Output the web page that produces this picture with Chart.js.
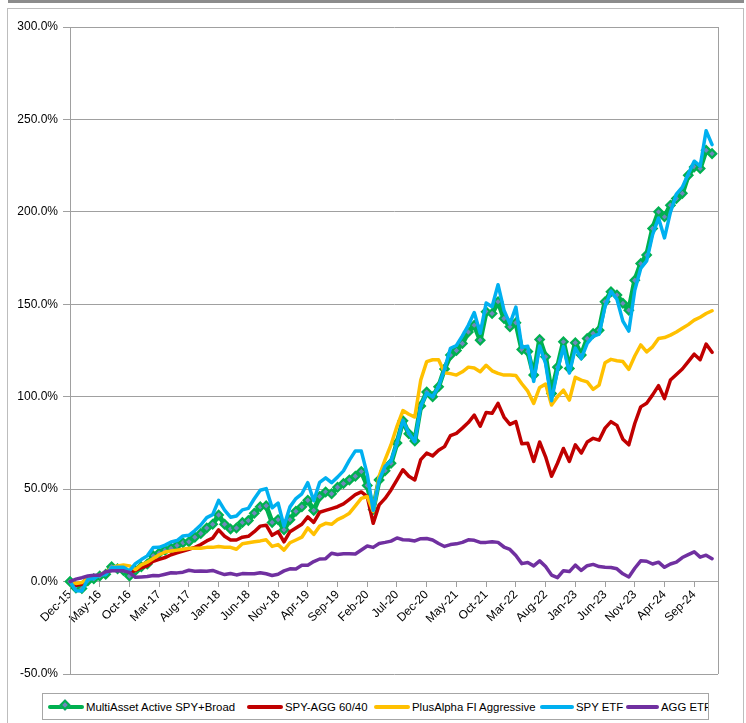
<!DOCTYPE html>
<html>
<head>
<meta charset="utf-8">
<script src="https://cdn.jsdelivr.net/npm/chart.js@4.4.1/dist/chart.umd.min.js"></script>
<style>
  body { margin: 0; background: #fff; width: 746px; height: 723px; overflow: hidden; position: relative;
         font-family: "Liberation Sans", Arial, sans-serif; }
  #topbar { position: absolute; left: 8px; top: 0; width: 736px; height: 3px; background: #8c8c8c; }
  #frame { position: absolute; left: 7px; top: 8px; width: 737px; height: 740px; border: 1px solid #bdbdbd; box-sizing: border-box; }
  #chart { position: absolute; left: 0; top: 0; }
  #legend { position: absolute; left: 42px; top: 693px; width: 667px; height: 27px; border: 1px solid #a6a6a6;
            box-sizing: border-box; overflow: hidden; background: #fff; }
  .item { position: absolute; top: 0; height: 25px; display: flex; align-items: center; font-size: 11.4px; white-space: nowrap; color: #000; }
  .sw { width: 36px; height: 4px; margin-right: 2px; position: relative; border-radius: 2px; }
  .dia { position: absolute; left: 13px; top: -3.5px; width: 8px; height: 8px; transform: rotate(45deg);
         background: #7086bd; border: 2px solid #00b050; box-sizing: border-box; }
</style>
</head>
<body>
<div id="topbar"></div>
<div id="frame"></div>
<canvas id="chart" width="746" height="690"></canvas>
<div id="legend">
  <div class="item" style="left:5px"><span class="sw" style="background:#00b050"><span class="dia"></span></span>MultiAsset Active SPY+Broad</div>
  <div class="item" style="left:204px"><span class="sw" style="background:#c00000"></span>SPY-AGG 60/40</div>
  <div class="item" style="left:331px"><span class="sw" style="background:#ffc000"></span>PlusAlpha FI Aggressive</div>
  <div class="item" style="left:497px"><span class="sw" style="background:#00b0f0; width:34px"></span>SPY ETF</div>
  <div class="item" style="left:583px"><span class="sw" style="background:#7030a0; width:33px"></span>AGG ETF</div>
</div>
<script>
// monthly categories Dec-15 .. Jan-25, a label shown every 5 months
const monthNames = ['Jan','Feb','Mar','Apr','May','Jun','Jul','Aug','Sep','Oct','Nov','Dec'];
const tickLabels = ['Dec-15','May-16','Oct-16','Mar-17','Aug-17','Jan-18','Jun-18','Nov-18','Apr-19','Sep-19','Feb-20',
  'Jul-20','Dec-20','May-21','Oct-21','Mar-22','Aug-22','Jan-23','Jun-23','Nov-23','Apr-24','Sep-24'];
const categories = [];
for (let k = 0; k < 110; k++) {
  const m = (11 + k) % 12, y = 15 + Math.floor((11 + k) / 12);
  categories.push(monthNames[m] + '-' + y);
}

// cumulative return, %
const multiAsset = [0,
  -3.5, -3.8, 0.5, 1.5, 3, 4, 8, 7, 6, 3, 6, 8,
  9.5, 14, 15.5, 17, 18, 19.5, 21, 21.5, 24, 26, 29, 31,
  36, 31, 28.5, 29, 32, 33, 37, 40.5, 41, 32, 33.5, 28,
  33.5, 38, 40.5, 44, 38.5, 46, 48.5, 47.5, 51, 53, 55, 57,
  59.5, 52, 39, 55, 60, 64, 75, 87, 80, 76, 95, 102.5,
  100, 105.4, 115, 122.5, 125, 128.8, 135, 138.7, 130.6, 146, 145, 151.4,
  142.3, 137.8, 140, 125.5, 124.5, 111.7, 131, 121.6, 101.8, 116, 129.7, 115.3,
  129.2, 122.5, 131.5, 134.2, 136, 151.4, 156.8, 155, 150.5, 146.8, 163, 172,
  176.6, 191, 200, 197.3, 203.6, 207.2, 210, 219.8, 224.3, 223.4, 233.3, 231.5];
const spyAgg6040 = [0,
  -2, -1.5, 2, 2.5, 3.5, 4.5, 6.5, 6.5, 6.5, 5, 6, 7.5,
  8.5, 11, 12, 13, 14.5, 15.5, 16.5, 17.5, 18.5, 20, 22, 23.5,
  28, 24.5, 22.5, 22.5, 24, 24.5, 27, 30, 30.5, 25, 27, 21.5,
  27, 29, 31, 35, 32, 37.5, 38.5, 39.5, 40.5, 42, 44.5, 47,
  48.5, 46, 31.5, 41.5, 45, 49.6, 55, 60.5, 57, 55, 66, 69.5,
  68, 71, 73, 79, 80.2, 83, 86, 90, 84, 91.5, 91, 96.4,
  89, 85, 86.5, 74.5, 74.8, 65, 75.5, 67.5, 57, 64, 72, 65,
  74, 69.5, 75.5, 77.5, 76.5, 83, 86.5, 84.5, 77, 74, 85.5, 94.5,
  96.5, 101, 106, 99, 109, 112, 115, 119, 123, 120, 128.5, 124];
const plusAlphaFI = [0,
  -1, -0.5, 1.5, 2.5, 3.5, 5, 7.5, 8.5, 9, 8.5, 6.5, 9,
  10.5, 12.5, 14.5, 16, 16.5, 17, 17.5, 18, 18, 18, 18.5, 18.5,
  19, 18.6, 18.5, 17.5, 20.5, 21, 21.5, 22, 22.6, 19, 20, 17,
  21, 22.5, 24, 29, 25.5, 30, 31.5, 31, 33.5, 35, 37, 41,
  45, 46, 38, 57, 66, 74, 84, 92.5, 90.5, 89, 109, 119,
  120, 120, 113, 112.5, 111.7, 113.5, 116, 115.5, 113.5, 117, 114, 112.6,
  111.7, 111.7, 111.5, 107, 103, 96.4, 105, 106.8, 95.5, 100, 103.6, 98.2,
  110.5, 109, 108, 104, 106.3, 118.4, 120.2, 119.5, 119, 114.8, 122, 128,
  124.3, 127, 131.5, 132, 133.3, 135, 137, 139, 141.4, 143, 145, 146.5];
const spyEtf = [0,
  -5.0, -5.1, 1.3, 1.7, 3.4, 3.8, 7.6, 7.7, 7.7, 5.8, 9.7, 11.9,
  13.9, 18.4, 18.5, 19.7, 21.4, 22.2, 24.7, 25.0, 27.6, 30.6, 34.6, 36.2,
  43.9, 38.6, 34.8, 35.5, 38.8, 39.6, 44.8, 49.4, 50.3, 39.9, 42.5, 30.0,
  40.4, 44.9, 47.5, 53.5, 43.7, 53.7, 56.1, 53.5, 56.5, 59.9, 65.7, 70.7,
  70.6, 58, 38.5, 55.0, 62.4, 65.3, 75.0, 87.2, 80.2, 75.7, 94.8, 102.0,
  100.0, 105.5, 115.0, 126.2, 127.7, 132.9, 138.6, 145.5, 134.3, 150.7, 148.7, 160.6,
  146.8, 139.4, 148.5, 126.8, 127.3, 108.3, 127.4, 118.0, 97.8, 114.3, 127.1, 112.8,
  126.3, 120.6, 128.8, 132.6, 133.8, 148.8, 157.0, 152.7, 140.9, 135.5, 157.6, 169.4,
  173.5, 187.7, 196.7, 185.9, 199.8, 209.6, 213.3, 220.5, 227.4, 224.7, 243.9, 236.4];
const aggEtf = [0,
  1.3, 2.1, 3.0, 3.4, 3.4, 5.3, 5.9, 5.8, 5.8, 5.0, 2.3, 2.5,
  2.7, 3.3, 3.2, 4.0, 4.8, 4.7, 5.1, 6.1, 5.6, 5.7, 5.6, 6.0,
  4.8, 3.8, 4.4, 3.6, 4.3, 4.2, 4.2, 4.8, 4.2, 3.3, 4.0, 5.8,
  6.9, 6.8, 8.8, 8.8, 10.8, 12.2, 12.4, 15.3, 14.6, 15.0, 15.0, 14.9,
  17.1, 19.2, 18.5, 20.6, 21.2, 21.9, 23.6, 22.6, 22.5, 22.0, 23.2, 23.3,
  22.5, 20.6, 19.0, 20.0, 20.4, 21.2, 22.6, 22.3, 21.2, 21.2, 21.6, 21.2,
  18.7, 17.4, 14.1, 9.7, 10.3, 8.5, 11.2, 8.1, 3.5, 2.1, 5.9, 5.4,
  8.9, 6.0, 8.6, 9.3, 8.1, 7.7, 7.6, 6.9, 4.2, 2.5, 7.2, 11.2,
  11.0, 9.5, 10.5, 7.7, 9.5, 10.5, 13.0, 14.6, 16.1, 13.2, 14.3, 12.4];

const gridColor = '#a0a0a0';

// right-hand edge of the plot area
const plotBorder = {
  id: 'plotBorder',
  beforeDatasetsDraw(chart) {
    const { ctx, chartArea: a } = chart;
    const x = Math.round(a.right) + 0.5;
    ctx.save();
    ctx.strokeStyle = gridColor;
    ctx.lineWidth = 1;
    ctx.beginPath();
    ctx.moveTo(x, a.top);
    ctx.lineTo(x, a.bottom);
    ctx.stroke();
    ctx.restore();
  }
};

function line(data, color, width, order) {
  return {
    data: data, borderColor: color, backgroundColor: color, borderWidth: width,
    pointRadius: 0, tension: 0, borderJoinStyle: 'round', borderCapStyle: 'round', order: order
  };
}

Chart.defaults.font.family = '"Liberation Sans", Arial, sans-serif';
Chart.defaults.font.size = 12;
Chart.defaults.color = '#000';

const green = line(multiAsset, '#00b050', 5, 5);
green.pointRadius = 4.2;
green.pointStyle = 'rectRot';
green.pointBackgroundColor = '#7086bd';
green.pointBorderColor = '#00b050';
green.pointBorderWidth = 2.2;

new Chart('chart', {
  type: 'line',
  data: {
    labels: categories,
    datasets: [
      green,
      line(spyAgg6040, '#c00000', 3.5, 4),
      line(plusAlphaFI, '#ffc000', 3.5, 3),
      line(spyEtf, '#00b0f0', 3.5, 2),
      line(aggEtf, '#7030a0', 3.5, 1)
    ]
  },
  options: {
    responsive: false,
    animation: false,
    devicePixelRatio: 1,
    layout: { padding: { left: 0, right: 28, top: 27, bottom: 16 } },
    plugins: { legend: { display: false }, tooltip: { enabled: false } },
    scales: {
      x: {
        type: 'category',
        position: { y: 0 },
        offset: false,
        grid: { drawOnChartArea: false, drawTicks: true, tickLength: 5, color: gridColor },
        border: { display: true, color: gridColor },
        ticks: {
          autoSkip: false, minRotation: 45, maxRotation: 45, padding: 1,
          callback: (v, i) => tickLabels.includes(categories[i]) ? categories[i] : null
        }
      },
      y: {
        min: -50, max: 300,
        afterFit: s => { s.width = 70; },
        grid: { color: gridColor, tickLength: 7 },
        border: { color: gridColor },
        ticks: { stepSize: 50, padding: 5, callback: v => v.toFixed(1) + '%' }
      }
    }
  },
  plugins: [plotBorder]
});
</script>
</body>
</html>
